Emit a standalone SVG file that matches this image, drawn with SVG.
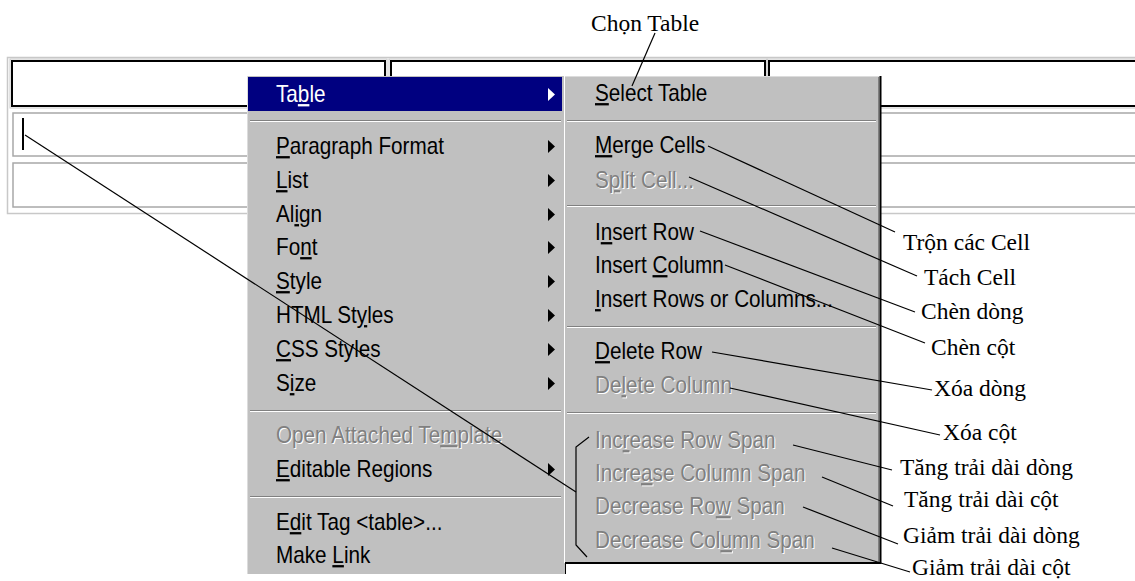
<svg xmlns="http://www.w3.org/2000/svg" width="1135" height="581" viewBox="0 0 1135 581">
  <style>
    .menu text { font-family: "Liberation Sans", Arial, sans-serif; font-size: 23px; fill: #000; }
    .menu text.hi { fill: #fff; }
    .menu text.dis { fill: #808080; }
    .menu text.sh { fill: #fff; }
    .lbl { font-family: "Liberation Serif", "Times New Roman", serif; font-size: 23.5px; fill: #000; }
    .sep1 { stroke: #808080; stroke-width: 1; }
    .sep2 { stroke: #fff; stroke-width: 1; }
    .arr { fill: #000; }
    .conn { stroke: #000; stroke-width: 1.2; fill: none; }
    .cellA { fill: #fff; stroke: #000; stroke-width: 2; }
    .cellB { fill: #fff; stroke: #a8a8a8; stroke-width: 1.5; }
  </style>

  <rect width="1135" height="581" fill="#fff"/>

  <!-- page table behind the menus -->
  <g id="table">
    <rect x="7.5" y="57.5" width="1140" height="156" fill="#fff" stroke="#c8c8c8" stroke-width="1.5"/>
    <rect x="10" y="59" width="377" height="49" fill="none" stroke="#c8c8c8" stroke-width="1"/>
    <rect x="12" y="61" width="373" height="45" class="cellA"/>
    <rect x="389" y="59" width="378" height="49" fill="none" stroke="#c8c8c8" stroke-width="1"/>
    <rect x="391" y="61" width="374" height="45" class="cellA"/>
    <rect x="767" y="59" width="380" height="49" fill="none" stroke="#c8c8c8" stroke-width="1"/>
    <rect x="769" y="61" width="380" height="45" class="cellA"/>
    <rect x="13" y="113" width="1140" height="43" class="cellB"/>
    <rect x="13" y="163" width="1140" height="44" class="cellB"/>
    <!-- text cursor -->
    <line x1="23" y1="118" x2="23" y2="150" stroke="#000" stroke-width="2"/>
  </g>

  <!-- context menu -->
  <g id="main-menu" class="menu">
    <rect x="247" y="76" width="318" height="498" fill="#c0c0c0"/>
    <line x1="247.5" y1="76" x2="247.5" y2="574" stroke="#dcdcdc"/>
    <line x1="565.5" y1="563" x2="565.5" y2="574" stroke="#000"/>
    <rect x="248" y="77" width="314" height="34" fill="#000080"/>
    <line x1="250" y1="120.5" x2="561" y2="120.5" class="sep1"/>
    <line x1="250" y1="121.5" x2="561" y2="121.5" class="sep2"/>
    <line x1="250" y1="410.5" x2="561" y2="410.5" class="sep1"/>
    <line x1="250" y1="411.5" x2="561" y2="411.5" class="sep2"/>
    <line x1="250" y1="496.5" x2="561" y2="496.5" class="sep1"/>
    <line x1="250" y1="497.5" x2="561" y2="497.5" class="sep2"/>

    <polygon points="548,88 548,101 555,94.5" fill="#fff"/>
    <polygon points="548,140 548,153 555,146.5" class="arr"/>
    <polygon points="548,174 548,187 555,180.5" class="arr"/>
    <polygon points="548,208 548,221 555,214.5" class="arr"/>
    <polygon points="548,241 548,254 555,247.5" class="arr"/>
    <polygon points="548,275 548,288 555,281.5" class="arr"/>
    <polygon points="548,309 548,322 555,315.5" class="arr"/>
    <polygon points="548,343 548,356 555,349.5" class="arr"/>
    <polygon points="548,377 548,390 555,383.5" class="arr"/>
    <polygon points="548,463 548,476 555,469.5" class="arr"/>

    <g transform="translate(276,0) scale(0.9,1)">
      <text class="hi" x="0" y="102">Ta<tspan text-decoration="underline">b</tspan>le</text>
      <text x="0" y="154"><tspan text-decoration="underline">P</tspan>aragraph Format</text>
      <text x="0" y="188"><tspan text-decoration="underline">L</tspan>ist</text>
      <text x="0" y="222">Al<tspan text-decoration="underline">i</tspan>gn</text>
      <text x="0" y="255">Fo<tspan text-decoration="underline">n</tspan>t</text>
      <text x="0" y="289"><tspan text-decoration="underline">S</tspan>tyle</text>
      <text x="0" y="323">HTML St<tspan text-decoration="underline">y</tspan>les</text>
      <text x="0" y="357"><tspan text-decoration="underline">C</tspan>SS Styles</text>
      <text x="0" y="391">S<tspan text-decoration="underline">i</tspan>ze</text>
      <text class="sh" x="1.1" y="444">Open Attached Te<tspan text-decoration="underline">m</tspan>plate</text>
      <text class="dis" x="0" y="443">Open Attached Te<tspan text-decoration="underline">m</tspan>plate</text>
      <text x="0" y="477"><tspan text-decoration="underline">E</tspan>ditable Regions</text>
      <text x="0" y="530">E<tspan text-decoration="underline">d</tspan>it Tag &lt;table&gt;...</text>
      <text x="0" y="563">Make <tspan text-decoration="underline">L</tspan>ink</text>
    </g>
  </g>

  <!-- Table submenu -->
  <g id="table-submenu" class="menu">
    <rect x="565" y="76" width="316" height="488" fill="#c0c0c0"/>
    <line x1="564.5" y1="76" x2="564.5" y2="563" stroke="#fff"/>
    <line x1="565" y1="76.5" x2="880" y2="76.5" stroke="#dcdcdc"/>
    <line x1="878.5" y1="77" x2="878.5" y2="562" stroke="#808080"/>
    <line x1="880.5" y1="76" x2="880.5" y2="564" stroke="#000" stroke-width="2"/>
    <line x1="565" y1="563" x2="881" y2="563" stroke="#000" stroke-width="2"/>
    <line x1="567" y1="120.5" x2="876" y2="120.5" class="sep1"/>
    <line x1="567" y1="121.5" x2="876" y2="121.5" class="sep2"/>
    <line x1="567" y1="205.5" x2="876" y2="205.5" class="sep1"/>
    <line x1="567" y1="206.5" x2="876" y2="206.5" class="sep2"/>
    <line x1="567" y1="326.5" x2="876" y2="326.5" class="sep1"/>
    <line x1="567" y1="327.5" x2="876" y2="327.5" class="sep2"/>
    <line x1="567" y1="412.5" x2="876" y2="412.5" class="sep1"/>
    <line x1="567" y1="413.5" x2="876" y2="413.5" class="sep2"/>

    <g transform="translate(595,0) scale(0.9,1)">
      <text x="0" y="101"><tspan text-decoration="underline">S</tspan>elect Table</text>
      <text x="0" y="153"><tspan text-decoration="underline">M</tspan>erge Cells</text>
      <text class="sh" x="1.1" y="189">S<tspan text-decoration="underline">p</tspan>lit Cell...</text>
      <text class="dis" x="0" y="188">S<tspan text-decoration="underline">p</tspan>lit Cell...</text>
      <text x="0" y="240">I<tspan text-decoration="underline">n</tspan>sert Row</text>
      <text x="0" y="273">Insert <tspan text-decoration="underline">C</tspan>olumn</text>
      <text x="0" y="307"><tspan text-decoration="underline">I</tspan>nsert Rows or Columns...</text>
      <text x="0" y="359"><tspan text-decoration="underline">D</tspan>elete Row</text>
      <text class="sh" x="1.1" y="394">De<tspan text-decoration="underline">l</tspan>ete Column</text>
      <text class="dis" x="0" y="393">De<tspan text-decoration="underline">l</tspan>ete Column</text>
      <text class="sh" x="1.1" y="449">Inc<tspan text-decoration="underline">r</tspan>ease Row Span</text>
      <text class="dis" x="0" y="448">Inc<tspan text-decoration="underline">r</tspan>ease Row Span</text>
      <text class="sh" x="1.1" y="482">Incre<tspan text-decoration="underline">a</tspan>se Column Span</text>
      <text class="dis" x="0" y="481">Incre<tspan text-decoration="underline">a</tspan>se Column Span</text>
      <text class="sh" x="1.1" y="515">Decrease Ro<tspan text-decoration="underline">w</tspan> Span</text>
      <text class="dis" x="0" y="514">Decrease Ro<tspan text-decoration="underline">w</tspan> Span</text>
      <text class="sh" x="1.1" y="549">Decrease Col<tspan text-decoration="underline">u</tspan>mn Span</text>
      <text class="dis" x="0" y="548">Decrease Col<tspan text-decoration="underline">u</tspan>mn Span</text>
    </g>
  </g>

  <!-- callout labels -->
  <g id="labels" class="lbl">
    <text class="lbl" x="591" y="31">Chọn Table</text>
    <text class="lbl" x="903" y="250">Trộn các Cell</text>
    <text class="lbl" x="924" y="285">Tách Cell</text>
    <text class="lbl" x="921" y="319">Chèn dòng</text>
    <text class="lbl" x="931" y="355">Chèn cột</text>
    <text class="lbl" x="934" y="396">Xóa dòng</text>
    <text class="lbl" x="943" y="440">Xóa cột</text>
    <text class="lbl" x="900" y="475">Tăng trải dài dòng</text>
    <text class="lbl" x="904" y="507">Tăng trải dài cột</text>
    <text class="lbl" x="903" y="543">Giảm trải dài dòng</text>
    <text class="lbl" x="912" y="575">Giảm trải dài cột</text>
  </g>

  <!-- leader lines -->
  <g id="connectors" class="conn">
    <line x1="655" y1="33" x2="632" y2="86"/>
    <line x1="708" y1="146" x2="895" y2="232"/>
    <line x1="689" y1="177" x2="917" y2="276"/>
    <line x1="700" y1="231" x2="915" y2="312"/>
    <line x1="725" y1="265" x2="925" y2="343"/>
    <line x1="712" y1="352" x2="932" y2="390"/>
    <line x1="730" y1="388" x2="940" y2="435"/>
    <line x1="793" y1="445" x2="892" y2="470"/>
    <line x1="822" y1="477" x2="893" y2="506"/>
    <line x1="803" y1="507" x2="898" y2="544"/>
    <line x1="832" y1="548" x2="910" y2="572"/>
    <line x1="25" y1="135" x2="576" y2="492"/>
    <polyline points="589,437 576,447 576,545 587,557"/>
  </g>
</svg>
